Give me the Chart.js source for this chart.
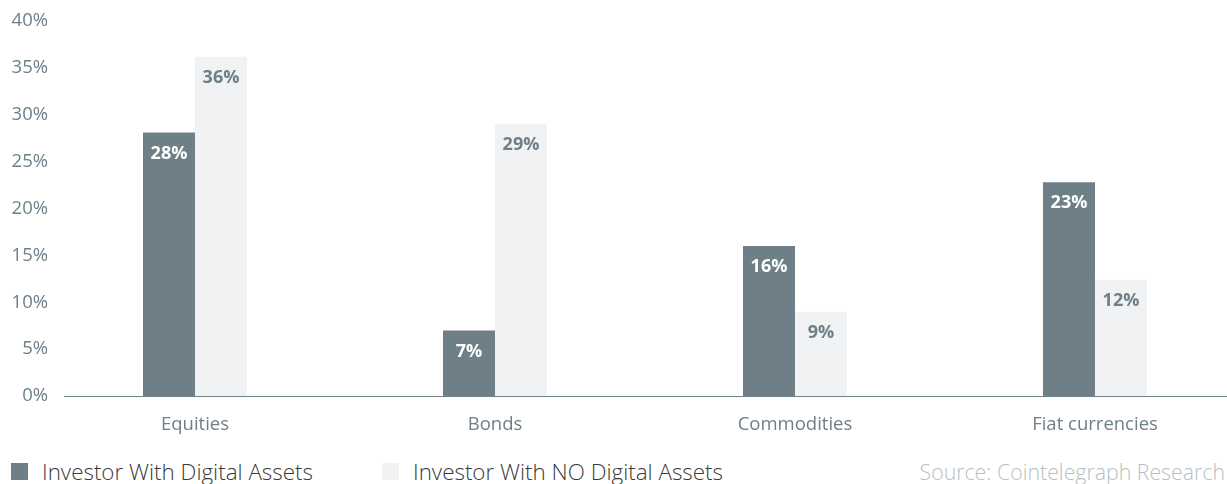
<!DOCTYPE html>
<html>
<head>
<meta charset="utf-8">
<script src="https://cdn.jsdelivr.net/npm/chart.js@4.4.1/dist/chart.umd.min.js"></script>
<style>
  html, body { margin: 0; padding: 0; background: #ffffff; overflow: hidden; }
  body { width: 1227px; height: 484px; position: relative; font-family: "Open Sans", sans-serif; }
  #wrap { position: absolute; left: 0; top: 0; width: 1227px; height: 445px; }
  .legend { position: absolute; top: 455px; height: 32px; display: flex; align-items: center;
            font-family: "Open Sans", sans-serif; font-weight: 300; font-size: 22.4px; color: #3a3a3a; white-space: nowrap; }
  .sw { width: 17px; height: 17px; margin-right: 14px; }
  #src { position: absolute; top: 455px; right: 2px; height: 32px; display: flex; align-items: center;
         font-family: "Open Sans", sans-serif; font-weight: 300; font-size: 21.3px; color: #b9c0c5; white-space: nowrap; }
</style>
</head>
<body>
<div id="wrap"><canvas id="c"></canvas></div>
<div class="legend" style="left:11px;"><div class="sw" style="background:#6e7f88"></div><span id="l1"></span></div>
<div class="legend" style="left:382px;"><div class="sw" style="background:#f1f2f4"></div><span id="l2"></span></div>
<div id="src"></div>
<script>
const categories = ["Equities", "Bonds", "Commodities", "Fiat currencies"];
const seriesNames = ["Investor With Digital Assets", "Investor With NO Digital Assets"];
const withDigital = [28.1, 7.0, 16.0, 22.8];
const withoutDigital = [36.2, 29.0, 9.0, 12.4];
const yTicks = [0, 5, 10, 15, 20, 25, 30, 35, 40];
const sourceText = "Source: Cointelegraph Research";

document.getElementById('l1').textContent = seriesNames[0];
document.getElementById('l2').textContent = seriesNames[1];
document.getElementById('src').textContent = sourceText;

const DARK = '#6e7f88';
const LIGHT = '#f1f2f4';

const labelPlugin = {
  id: 'barLabels',
  afterDatasetsDraw(chart) {
    const ctx = chart.ctx;
    ctx.save();
    ctx.font = '700 18px "Open Sans", sans-serif';
    ctx.textAlign = 'center';
    ctx.textBaseline = 'middle';
    chart.data.datasets.forEach((ds, di) => {
      const meta = chart.getDatasetMeta(di);
      ctx.fillStyle = di === 0 ? '#ffffff' : DARK;
      meta.data.forEach((bar, i) => {
        const v = ds.data[i].y;
        ctx.fillText(Math.round(v) + '%', bar.x, bar.y + 21);
      });
    });
    ctx.restore();
  }
};

new Chart(document.getElementById('c'), {
  type: 'bar',
  data: {
    datasets: [
      { label: seriesNames[0], data: withDigital.map((v, i) => ({ x: i, y: v })), backgroundColor: DARK,
        categoryPercentage: 0.3467, barPercentage: 1.0 },
      { label: seriesNames[1], data: withoutDigital.map((v, i) => ({ x: i, y: v })), backgroundColor: LIGHT,
        categoryPercentage: 0.3467, barPercentage: 1.0 }
    ]
  },
  options: {
    responsive: true,
    maintainAspectRatio: false,
    animation: false,
    layout: { padding: { top: 21, right: 0, left: 0, bottom: 0 } },
    plugins: { legend: { display: false }, tooltip: { enabled: false } },
    scales: {
      x: {
        type: 'linear',
        offset: false,
        min: -0.4367,
        max: 3.44,
        grid: { display: false, drawTicks: false },
        border: { display: true, color: '#6e7f88', width: 1 },
        afterBuildTicks(scale) { scale.ticks = categories.map((_, i) => ({ value: i })); },
        afterFit(scale) { scale.height = 445 - 396; scale.paddingLeft = 0; scale.paddingRight = 0; },
        ticks: {
          padding: 18,
          color: '#6e7f88',
          font: { family: '"Open Sans", sans-serif', size: 18.5 },
          callback: (v) => categories[v] ?? '',
          autoSkip: false,
          maxRotation: 0
        }
      },
      y: {
        min: 0,
        max: 40,
        grid: { display: false, drawTicks: false },
        border: { display: false },
        afterBuildTicks(scale) { scale.ticks = yTicks.map(v => ({ value: v })); },
        afterFit(scale) { scale.width = 64; scale.paddingTop = 0; scale.paddingBottom = 0; },
        ticks: {
          padding: 16,
          color: '#6e7f88',
          font: { family: '"Open Sans", sans-serif', size: 18.5 },
          callback: (v) => v + '%'
        }
      }
    }
  },
  plugins: [labelPlugin]
});
</script>
</body>
</html>
